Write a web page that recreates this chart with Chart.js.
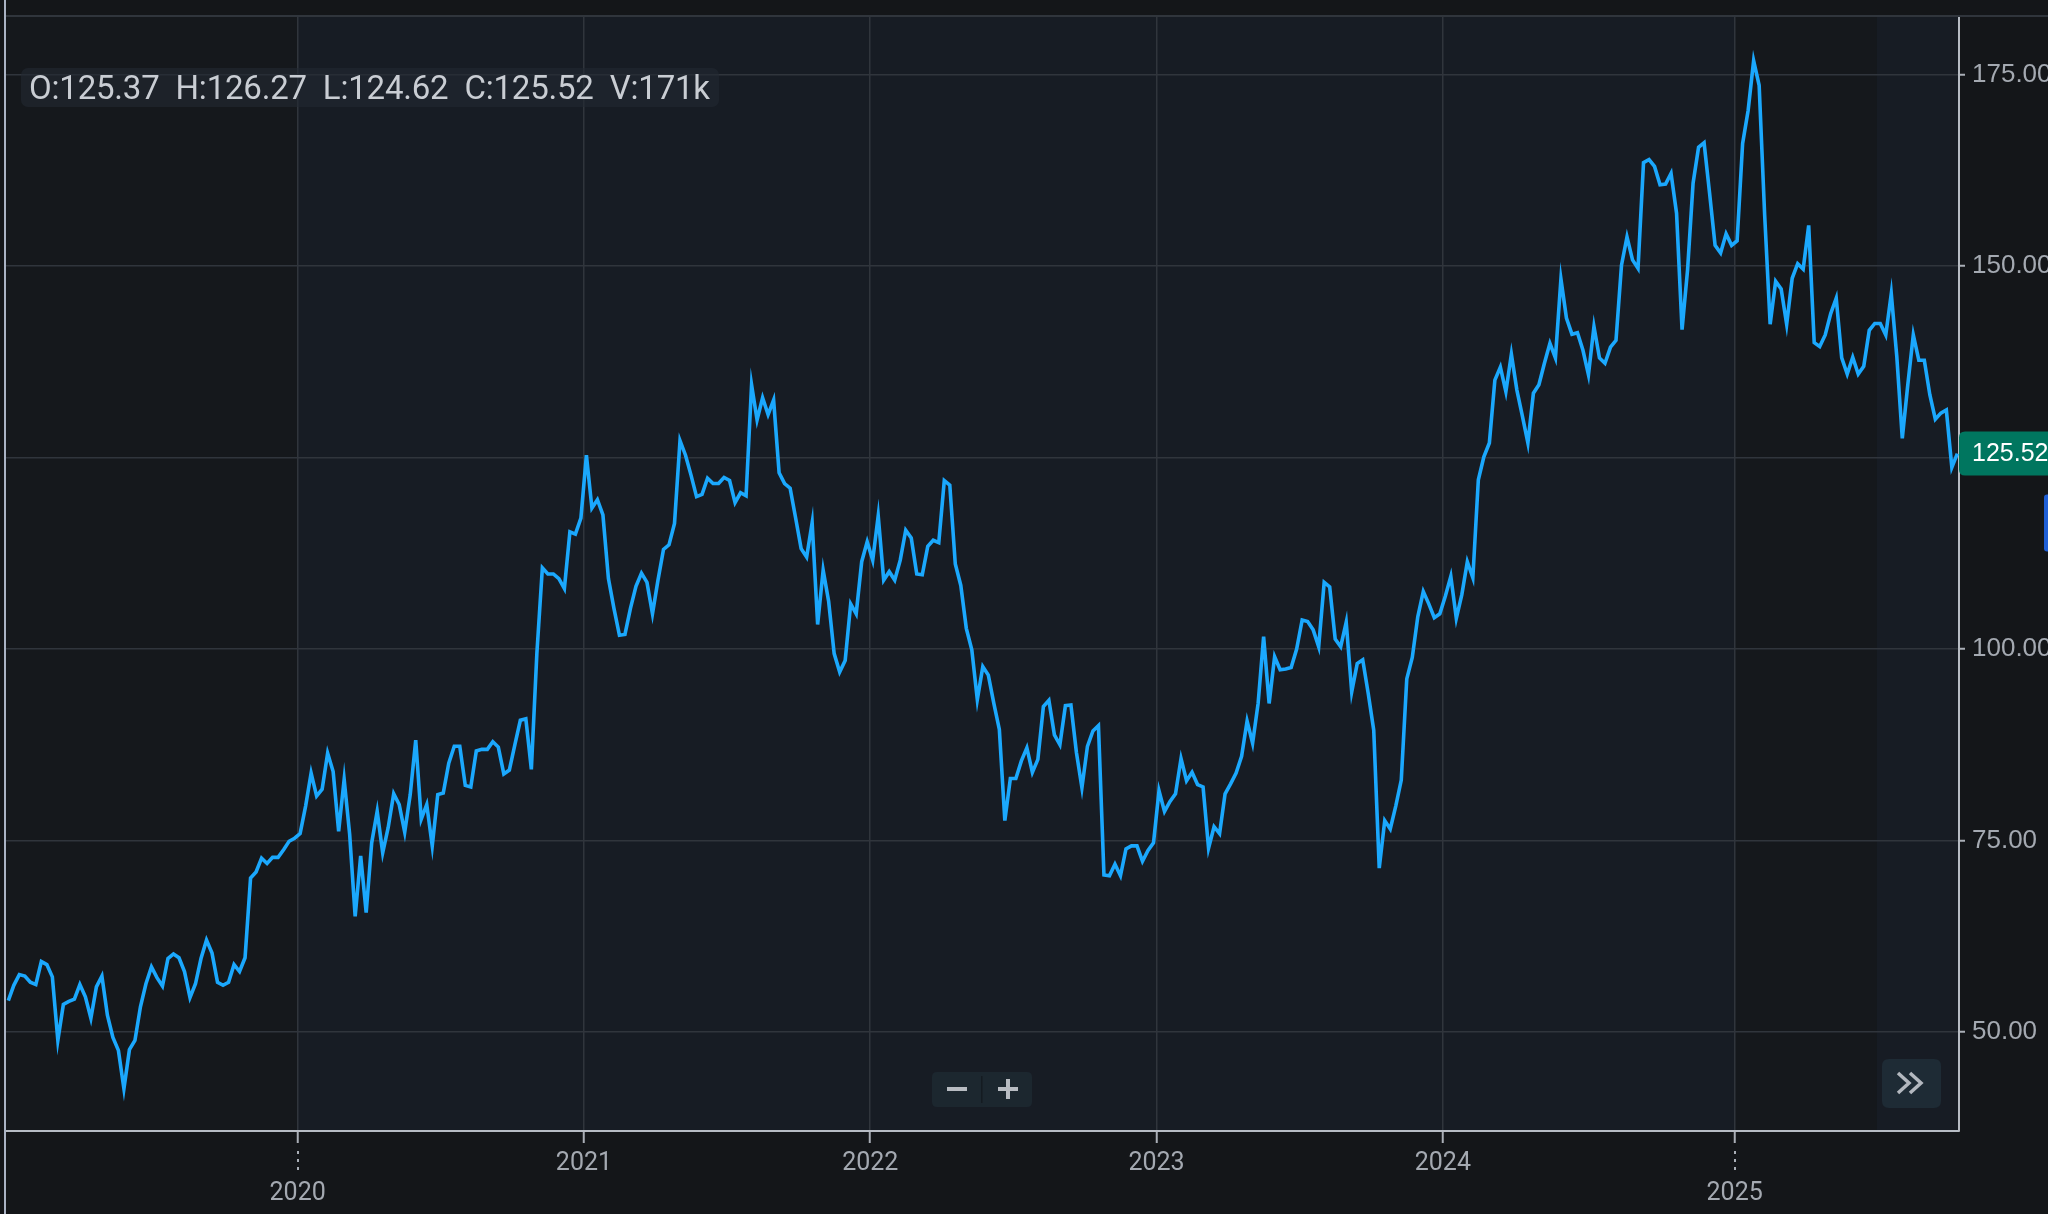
<!DOCTYPE html>
<html>
<head>
<meta charset="utf-8">
<script src="https://cdn.jsdelivr.net/npm/chart.js@4/dist/chart.umd.min.js"></script>
<style>
html,body{margin:0;padding:0;background:#141619;overflow:hidden;}
#wrap{position:relative;width:2048px;height:1214px;}
canvas{display:block;}
#ohlc{position:absolute;left:21px;top:68px;height:39px;padding:0 9px 0 8px;background:rgba(34,41,50,0.62);border-radius:7px;
  font-family:Roboto,"Liberation Sans",sans-serif;font-size:33px;line-height:39px;color:#c9cdd3;white-space:pre;letter-spacing:-0.2px;}
</style>
</head>
<body>
<div id="wrap">
<canvas id="c" width="2048" height="1214"></canvas>
<div id="ohlc"></div>
</div>
<script>
// ---- data (weekly closes) ----
const closes2019 = [54.1,56.1,57.5,57.3,56.5,56.2,59.2,58.8,57.2,48.9,53.6,54.0,54.3,56.2,54.6,51.8,55.9,57.3,52.2,49.3,47.6,42.6,47.7,48.9,53.3,56.3,58.5,57.1,56.0,59.6,60.2,59.7,57.9,54.5,56.3,59.6,62.0,60.3,56.5,56.1,56.5,58.8,57.9,59.7,70.1,70.9,72.7,72.0,72.8,72.8,73.8,74.9,75.3];
const closes2020 = [75.9,79.5,83.8,80.8,81.7,86.4,84.0,76.2,83.0,75.8,65.1,73.0,65.6,74.7,78.8,73.4,76.7,81.1,79.7,76.1,81.0,88.1,77.8,79.7,74.3,81.0,81.2,85.1,87.3,87.3,82.2,82.0,86.7,86.9,86.9,87.9,87.2,83.7,84.2,87.5,90.7,90.9,84.3,99.4,110.6,109.8,109.8,109.2,107.9,115.3,115.0,117.1];
const closes2021 = [125.3,118.4,119.5,117.5,109.2,105.3,101.8,101.9,105.3,108.2,109.9,108.7,104.6,109.0,113.0,113.6,116.4,127.2,125.3,122.7,119.9,120.2,122.3,121.6,121.6,122.4,122.0,119.1,120.4,120.0,134.5,129.9,132.8,130.6,132.5,123.0,121.6,121.0,117.1,113.1,112.0,116.5,103.2,110.3,106.2,99.4,97.0,98.5,105.9,104.6,111.4,114.0];
const closes2022 = [111.6,117.4,109.0,110.1,109.0,111.6,115.5,114.5,109.8,109.7,113.4,114.2,113.9,122.0,121.4,111.1,108.3,102.7,99.9,93.4,97.7,96.6,92.9,89.5,77.6,83.1,83.1,85.4,87.1,83.9,85.6,92.5,93.3,88.8,87.5,92.6,92.7,86.5,81.9,87.3,89.3,90.0,70.5,70.4,71.9,70.4,73.9,74.3,74.3,72.3,73.7,74.7];
const closes2023 = [81.5,78.8,80.1,81.1,85.7,82.8,83.9,82.3,82.0,74.0,76.8,75.9,81.1,82.4,83.8,86.0,90.6,87.7,92.9,101.6,92.9,99.0,97.3,97.4,97.6,100.0,103.8,103.6,102.5,100.3,108.7,108.1,101.3,100.3,103.5,94.4,98.1,98.6,94.2,89.4,71.4,77.6,76.5,79.5,82.9,96.1,98.9,104.2,107.5,105.9,104.1,104.6];
const closes2024 = [106.9,109.5,104.0,107.1,111.4,109.3,122.1,125.1,126.9,135.1,136.8,133.6,138.5,133.8,130.4,126.9,133.4,134.5,137.3,139.9,138.0,148.3,143.2,141.1,141.3,139.0,135.8,142.1,138.0,137.3,139.4,140.3,150.1,153.8,150.8,149.7,163.5,163.9,163.0,160.6,160.7,162.1,156.9,141.7,149.5,160.8,165.5,166.1,159.5,152.7,151.7,154.2,152.7];
const closes2025 = [153.3,166.0,170.3,176.8,173.6,156.7,142.4,148.0,147.0,142.4,148.4,150.3,149.6,155.3,140.0,139.5,141.0,143.8,145.8,138.0,135.9,138.1,135.9,136.9,141.6,142.5,142.5,141.0,146.4,138.2,127.5,134.5,141.0,137.7,137.7,133.2,130.0,130.8,131.2,123.7,125.52];

const years = ['2019','2020','2021','2022','2023','2024','2025'];
const seriesByYear = [closes2019,closes2020,closes2021,closes2022,closes2023,closes2024,closes2025];
const xTickYears = ['2020','2021','2022','2023','2024','2025'];
const yTicks = [50,75,100,125,150,175];
const ohlcKeys = ['O','H','L','C','V'];
const ohlcVals = ['125.37','126.27','124.62','125.52','171k'];
const lastClose = 125.52;

// ---- build points (x = weekly bar index) ----
const points = [];
const yearStart = {};
let idx = 0;
seriesByYear.forEach((arr,k)=>{
  yearStart[years[k]] = idx;
  arr.forEach(v=>{ points.push({x:idx, y:v}); idx++; });
});
const tickVals = xTickYears.map(y => yearStart[y] - 0.45);
const lowerRowYears = ['2020','2025'];

document.getElementById('ohlc').textContent =
  ohlcKeys.map((k,i)=>k+':'+ohlcVals[i]).join('  ');

function roundRect(ctx,x,y,w,h,r){
  ctx.beginPath();
  ctx.moveTo(x+r,y);ctx.lineTo(x+w-r,y);ctx.quadraticCurveTo(x+w,y,x+w,y+r);
  ctx.lineTo(x+w,y+h-r);ctx.quadraticCurveTo(x+w,y+h,x+w-r,y+h);
  ctx.lineTo(x+r,y+h);ctx.quadraticCurveTo(x,y+h,x,y+h-r);
  ctx.lineTo(x,y+r);ctx.quadraticCurveTo(x,y,x+r,y);ctx.closePath();
}

const decor = {
  id:'decor',
  beforeDraw(chart){
    const {ctx, chartArea:a, scales:{x}} = chart;
    ctx.save();
    ctx.fillStyle = '#141619';
    ctx.fillRect(0,0,chart.width,chart.height);
    ctx.fillStyle = '#15181c';
    ctx.fillRect(a.left,a.top,a.right-a.left,a.bottom-a.top);
    ctx.fillStyle = '#171c24';
    const x20 = x.getPixelForValue(tickVals[0]);
    const x25 = x.getPixelForValue(tickVals[5]);
    ctx.fillRect(x20,a.top,x25-x20,a.bottom-a.top);
    const xh = x.getPixelForValue(339.4);
    ctx.fillRect(xh,a.top,a.right-xh,a.bottom-a.top);
    ctx.restore();
  },
  afterDraw(chart){
    const {ctx, chartArea:a, scales:{x,y}} = chart;
    ctx.save();
    // top line
    ctx.fillStyle = '#30353c';
    ctx.fillRect(a.left,a.top-1,chart.width-a.left,2);
    // left line
    ctx.fillStyle = '#aab3c4';
    ctx.fillRect(a.left-1,0,2,chart.height);
    // dotted tick extensions
    ctx.fillStyle = '#a9aeb6';
    lowerRowYears.forEach(yr=>{
      const px = Math.round(x.getPixelForValue(yearStart[yr]-0.45));
      [1151,1159,1167].forEach(py=>ctx.fillRect(px-1,py,2,3));
    });
    // price tag
    const py = y.getPixelForValue(lastClose);
    ctx.fillStyle = '#00765f';
    roundRect(ctx,a.right,py-22,chart.width-a.right+8,44,6);
    ctx.fill();
    ctx.fillStyle = '#ffffff';
    ctx.font = '25px "Liberation Sans", Arial, sans-serif';
    ctx.textBaseline = 'middle';
    ctx.textAlign = 'left';
    ctx.fillText(lastClose.toFixed(2), a.right+13, py+1);
    // blue marker
    ctx.fillStyle = '#1f5fd6';
    roundRect(ctx,2044,py+41,10,57,3);
    ctx.fill();
    // zoom buttons
    ctx.fillStyle = '#1c272f';
    roundRect(ctx,932,1072,100,35,5); ctx.fill();
    ctx.fillStyle = '#141b21';
    ctx.fillRect(981,1076,1.5,27);
    ctx.fillStyle = '#b8bcc2';
    ctx.fillRect(947,1087,20,4);
    ctx.fillRect(998,1087,20,4);
    ctx.fillRect(1006,1079,4,20);
    // scroll-to-end button
    ctx.fillStyle = '#1e2b35';
    roundRect(ctx,1882,1059,59,49,7); ctx.fill();
    ctx.strokeStyle = '#b3b8bf';
    ctx.lineWidth = 3.5;
    ctx.lineJoin = 'miter';
    ctx.beginPath();
    ctx.moveTo(1898,1073);ctx.lineTo(1909,1083);ctx.lineTo(1898,1093);
    ctx.moveTo(1910,1073);ctx.lineTo(1921,1083);ctx.lineTo(1910,1093);
    ctx.stroke();
    ctx.restore();
  }
};

new Chart(document.getElementById('c'), {
  type:'line',
  data:{datasets:[{data:points,borderColor:'#1ba8fd',borderWidth:3.6,pointRadius:0,tension:0,fill:false,borderJoinStyle:'miter'}]},
  options:{
    responsive:false, animation:false, devicePixelRatio:1, events:[],
    layout:{padding:{top:16,left:5,right:0,bottom:0}},
    plugins:{legend:{display:false},tooltip:{enabled:false}},
    scales:{
      x:{
        type:'linear', min:-0.6, max:354.3,
        afterBuildTicks:s=>{ s.ticks = tickVals.map(v=>({value:v})); },
        afterFit:s=>{ s.height = 83; s.paddingLeft = 0; s.paddingRight = 0; },
        grid:{color:'#30353c',lineWidth:1.5,tickLength:12,tickColor:'#a9aeb6',tickWidth:2},
        border:{display:true,color:'#b7bcc4',width:2},
        ticks:{autoSkip:false,maxRotation:0,padding:6,color:'#a4a9b1',
          font:{family:'Roboto',size:25},
          callback:(v,i)=> lowerRowYears.includes(xTickYears[i]) ? ['',xTickYears[i]] : xTickYears[i]}
      },
      y:{
        position:'right', min:37.08, max:182.64,
        afterBuildTicks:s=>{ s.ticks = yTicks.map(v=>({value:v})); },
        afterFit:s=>{ s.width = 89; s.paddingTop = 0; s.paddingBottom = 0; },
        grid:{color:'#30353c',lineWidth:1.5,tickLength:6,tickColor:'#a9aeb6',tickWidth:2},
        border:{display:true,color:'#b7bcc4',width:2},
        ticks:{padding:7,color:'#a4a9b1',font:{family:'Liberation Sans',size:26},
          callback:v=>Number(v).toFixed(2)}
      }
    }
  },
  plugins:[decor]
});
</script>
</body>
</html>
